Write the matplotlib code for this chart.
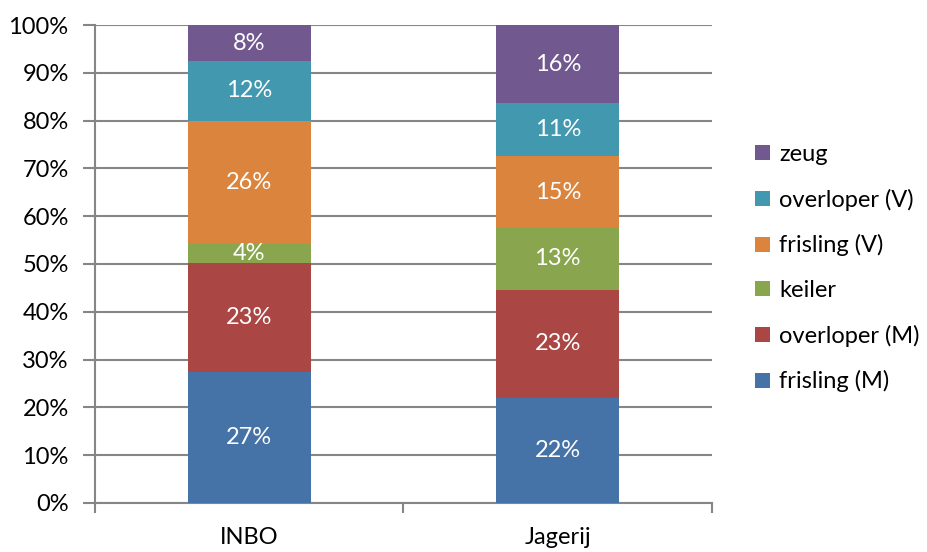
import matplotlib.pyplot as plt
import numpy as np
from matplotlib.ticker import PercentFormatter

plt.rcParams['font.family'] = ['Lato', 'DejaVu Sans']

categories = ["INBO", "Jagerij"]
series = ["frisling (M)", "overloper (M)", "keiler", "frisling (V)", "overloper (V)", "zeug"]
values = {
    "frisling (M)":  [27.4, 22.0],
    "overloper (M)": [22.9, 22.6],
    "keiler":        [3.9, 13.0],
    "frisling (V)":  [25.8, 14.9],
    "overloper (V)": [12.4, 11.1],
    "zeug":          [7.6, 16.4],
}
labels = {
    "frisling (M)":  ["27%", "22%"],
    "overloper (M)": ["23%", "23%"],
    "keiler":        ["4%", "13%"],
    "frisling (V)":  ["26%", "15%"],
    "overloper (V)": ["12%", "11%"],
    "zeug":          ["8%", "16%"],
}
colors = ["#4572A7", "#AA4643", "#89A54E", "#DB843D", "#4198AF", "#71588F"]

FS = 17

fig = plt.figure(figsize=(9.27, 5.52), dpi=100)
ax = fig.add_axes([0.1025, 0.0888, 0.6655, 0.8659])

x = np.arange(len(categories))
bottom = np.zeros(len(categories))
handles = []
for name, col in zip(series, colors):
    v = np.array(values[name])
    b = ax.bar(x, v, 0.4, bottom=bottom, color=col, zorder=3, label=name)
    handles.append(b)
    for i in range(len(categories)):
        ax.text(x[i], bottom[i] + v[i] / 2, labels[name][i], ha="center", va="center",
                color="white", fontsize=FS, zorder=4)
    bottom += v

ax.set_xlim(-0.5, 1.5)
ax.set_ylim(0, 100)
ax.set_yticks(np.arange(0, 101, 10))
ax.yaxis.set_major_formatter(PercentFormatter(decimals=0))
ax.grid(axis="y", color="#868686", linewidth=1.5, zorder=0)
ax.set_axisbelow(True)
ax.set_xticks(x)
ax.set_xticklabels(categories)
ax.set_xticks([-0.5, 0.5, 1.5], minor=True)
ax.tick_params(axis="x", which="major", length=0, labelsize=FS, pad=17)
ax.tick_params(axis="x", which="minor", length=7, width=1.5, color="#868686", direction="out")
ax.tick_params(axis="y", length=9, width=1.5, color="#868686", labelsize=FS, pad=10)
for s in ["top", "right"]:
    ax.spines[s].set_visible(False)
for s in ["left", "bottom"]:
    ax.spines[s].set_color("#868686")
    ax.spines[s].set_linewidth(1.5)

leg = fig.legend(handles[::-1], series[::-1], loc="center left", bbox_to_anchor=(0.792, 0.514),
                 frameon=False, fontsize=FS, handlelength=0.6, handleheight=0.6,
                 handletextpad=0.4, labelspacing=1.0)

fig.savefig("out.png", dpi=100)
